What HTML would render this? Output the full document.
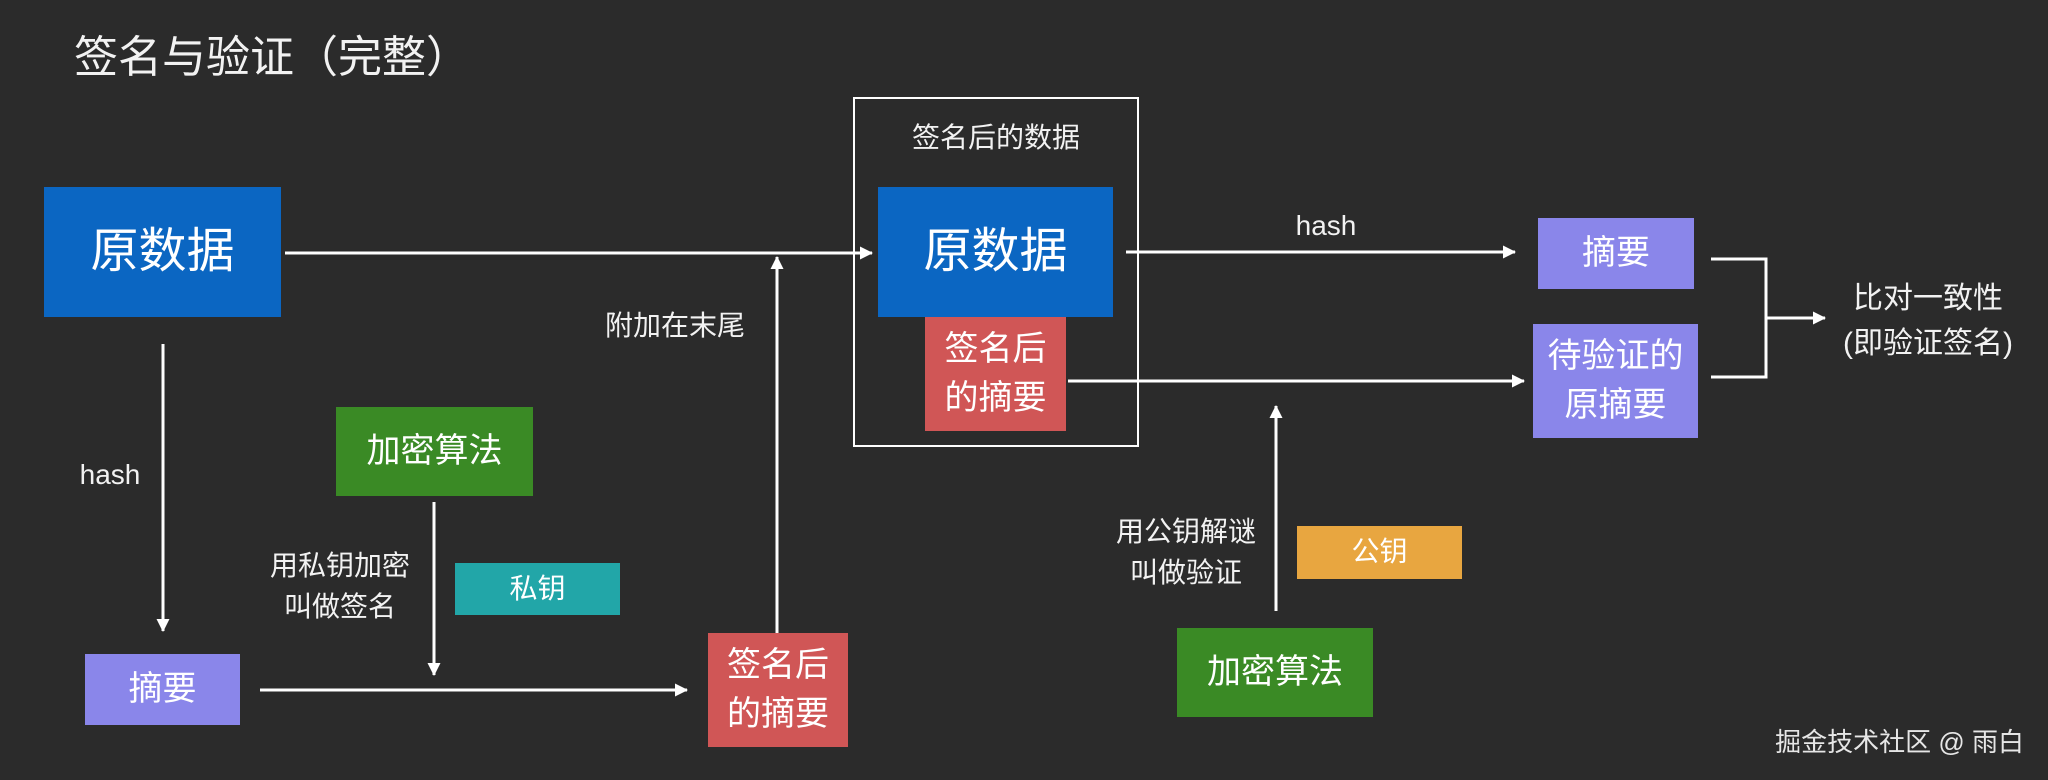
<!DOCTYPE html>
<html><head><meta charset="utf-8"><style>
body{margin:0;width:2048px;height:780px;background:#2b2b2b;position:relative;overflow:hidden;font-family:"Liberation Sans","Noto Sans CJK SC",sans-serif;color:#fff}
.b{position:absolute;display:flex;align-items:center;justify-content:center;text-align:center;line-height:1.45}
.t{position:absolute;text-align:center;line-height:1.45;color:#f2f2f2}
svg{position:absolute;left:0;top:0}
</style></head><body>
<div class="t" style="left:74px;top:26px;font-size:44px;text-align:left">签名与验证（完整）</div>

<div class="b" style="left:853px;top:97px;width:282px;height:346px;border:2px solid #fff"></div>
<div class="t" style="left:853px;top:118px;width:286px;font-size:28px">签名后的数据</div>

<div class="b" style="left:44px;top:187px;width:237px;height:130px;background:#0b66c2;font-size:48px">原数据</div>
<div class="b" style="left:878px;top:187px;width:235px;height:130px;background:#0b66c2;font-size:48px">原数据</div>
<div class="b" style="left:925px;top:317px;width:141px;height:114px;background:#d05656;font-size:34px">签名后<br>的摘要</div>
<div class="b" style="left:708px;top:633px;width:140px;height:114px;background:#d05656;font-size:34px">签名后<br>的摘要</div>
<div class="b" style="left:1538px;top:218px;width:156px;height:71px;background:#8a86ea;font-size:34px">摘要</div>
<div class="b" style="left:1533px;top:324px;width:165px;height:114px;background:#8a86ea;font-size:34px">待验证的<br>原摘要</div>
<div class="b" style="left:85px;top:654px;width:155px;height:71px;background:#8a86ea;font-size:34px">摘要</div>
<div class="b" style="left:336px;top:407px;width:197px;height:89px;background:#3a8a25;font-size:34px">加密算法</div>
<div class="b" style="left:1177px;top:628px;width:196px;height:89px;background:#3a8a25;font-size:34px">加密算法</div>
<div class="b" style="left:455px;top:563px;width:165px;height:52px;background:#22a6a8;font-size:28px">私钥</div>
<div class="b" style="left:1297px;top:526px;width:165px;height:53px;background:#e8a640;font-size:28px">公钥</div>

<div class="t" style="left:1266px;top:206px;width:120px;font-size:28px">hash</div>
<div class="t" style="left:50px;top:455px;width:120px;font-size:28px">hash</div>
<div class="t" style="left:1828px;top:276px;width:200px;font-size:30px;line-height:1.5">比对一致性<br>(即验证签名)</div>
<div class="t" style="left:580px;top:306px;width:190px;font-size:28px">附加在末尾</div>
<div class="t" style="left:240px;top:546px;width:200px;font-size:28px;line-height:1.45">用私钥加密<br>叫做签名</div>
<div class="t" style="left:1086px;top:512px;width:200px;font-size:28px;line-height:1.45">用公钥解谜<br>叫做验证</div>
<div class="t" style="left:1700px;top:724px;width:324px;font-size:26px;text-align:right;color:#e6e6e6">掘金技术社区 @ 雨白</div>

<svg width="2048" height="780" fill="none" stroke="#fff" stroke-width="3">
<defs><marker id="a" markerWidth="13" markerHeight="13" refX="12" refY="6.5" orient="auto" markerUnits="userSpaceOnUse"><path d="M0,0L13,6.5L0,13z" fill="#fff" stroke="none"/></marker></defs>
<line x1="285" y1="253" x2="872" y2="253" marker-end="url(#a)"/>
<line x1="1126" y1="252" x2="1515" y2="252" marker-end="url(#a)"/>
<line x1="1068" y1="381" x2="1524" y2="381" marker-end="url(#a)"/>
<polyline points="1711,259 1766,259 1766,377 1711,377"/>
<line x1="1766" y1="318" x2="1825" y2="318" marker-end="url(#a)"/>
<line x1="163" y1="344" x2="163" y2="631" marker-end="url(#a)"/>
<line x1="260" y1="690" x2="687" y2="690" marker-end="url(#a)"/>
<line x1="434" y1="502" x2="434" y2="675" marker-end="url(#a)"/>
<line x1="777" y1="633" x2="777" y2="257" marker-end="url(#a)"/>
<line x1="1276" y1="611" x2="1276" y2="406" marker-end="url(#a)"/>
</svg>
</body></html>
